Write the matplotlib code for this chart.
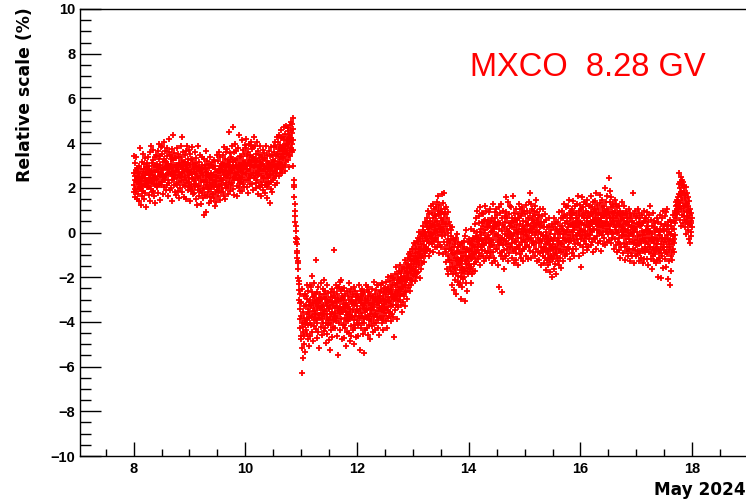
import numpy as np
from matplotlib import pyplot as plt
from matplotlib.ticker import MultipleLocator

# relative scale (%) for MXCO 8.28 GV, one list per day of May 2024,
# samples evenly spaced through the day (20 per 2-hour row)
may08 = [
    2.13, 3.41, 2.64, 1.81, 2.35, 3.09, 1.96, 2.53, 1.58, 2.79, 2.32, 3.38, 1.84, 2.46, 2.73, 1.52, 2.88, 2.04, 2.67, 2.26,
    1.73, 2.48, 2.97, 2.16, 1.42, 2.61, 2.27, 3.76, 1.93, 2.38, 1.24, 2.85, 1.97, 2.31, 3.17, 1.86, 2.55, 2.08, 1.63, 2.69,
    2.44, 3.52, 1.87, 2.83, 2.18, 1.49, 3.06, 2.57, 2.12, 3.34, 2.46, 1.77, 2.91, 2.29, 1.14, 2.68, 3.13, 2.02, 2.37, 2.94,
    2.03, 2.74, 3.36, 2.21, 1.68, 2.57, 2.96, 2.34, 2.82, 1.41, 2.63, 3.58, 2.09, 2.42, 1.94, 3.87, 2.71, 2.24, 3.12, 1.79,
    2.77, 2.32, 3.24, 1.86, 2.59, 3.71, 2.43, 1.62, 2.94, 2.17, 3.38, 2.72, 1.33, 2.47, 3.04, 2.14, 2.81, 3.46, 2.39, 2.06,
    3.08, 2.36, 2.04, 3.63, 2.71, 1.76, 2.93, 3.27, 2.54, 3.98, 2.19, 2.83, 1.47, 3.02, 2.58, 3.44, 2.13, 2.66, 3.82, 2.28,
    2.87, 3.53, 2.24, 2.61, 3.86, 2.42, 3.14, 1.73, 2.79, 3.31, 2.48, 4.07, 2.03, 2.92, 3.18, 2.34, 3.66, 2.57, 1.91, 2.98,
    3.16, 2.54, 3.79, 2.13, 2.86, 3.42, 2.68, 1.64, 3.07, 2.37, 3.61, 2.84, 4.18, 2.23, 2.97, 2.62, 3.48, 1.88, 2.93, 3.29,
    2.63, 3.06, 1.98, 3.72, 2.76, 2.34, 3.37, 1.43, 2.88, 3.23, 2.51, 4.36, 2.14, 2.69, 3.57, 2.41, 1.82, 3.03, 2.56, 3.32,
    2.92, 2.18, 3.34, 2.73, 1.66, 3.01, 2.44, 3.77, 2.12, 2.58, 3.53, 1.87, 2.83, 2.27, 3.09, 1.54, 2.71, 3.36, 1.97, 2.52,
    3.04, 2.57, 3.88, 2.32, 2.94, 3.38, 1.83, 2.66, 3.21, 2.47, 4.26, 2.13, 2.98, 2.84, 3.62, 2.36, 1.58, 3.14, 2.72, 3.47,
    2.53, 3.17, 2.08, 2.82, 3.64, 2.37, 1.52, 3.03, 2.74, 3.86, 2.21, 2.93, 3.28, 1.92, 2.57, 3.12, 2.43, 3.68, 2.02, 2.79,
]
may09 = [
    2.28, 3.04, 1.43, 2.67, 3.52, 2.14, 2.76, 1.87, 3.23, 2.46, 3.81, 1.96, 2.63, 3.27, 1.74, 2.92, 2.38, 3.08, 2.17, 2.71,
    2.83, 1.76, 3.12, 2.37, 2.04, 3.58, 2.62, 1.48, 2.94, 2.16, 3.32, 2.53, 1.21, 2.74, 2.97, 2.06, 3.87, 2.43, 1.88, 2.79,
    2.07, 2.93, 1.62, 3.16, 2.54, 1.86, 2.73, 3.47, 2.24, 1.28, 2.82, 2.36, 3.03, 1.77, 2.64, 3.38, 1.97, 2.33, 1.54, 2.87,
    2.58, 1.93, 3.27, 2.24, 0.79, 2.83, 2.36, 3.04, 1.68, 2.52, 3.66, 2.13, 0.93, 2.71, 2.27, 3.18, 1.63, 2.89, 2.02, 2.57,
    1.82, 2.63, 3.07, 1.96, 1.34, 2.42, 2.88, 1.57, 2.23, 3.36, 2.48, 1.94, 2.68, 1.42, 3.03, 2.12, 2.56, 1.73, 2.34, 3.17,
    2.37, 1.72, 2.91, 2.14, 3.26, 1.53, 2.58, 2.03, 1.17, 2.84, 2.26, 2.98, 1.83, 2.47, 1.36, 2.72, 2.18, 3.48, 1.92, 2.43,
    2.04, 2.77, 1.64, 3.18, 2.53, 2.07, 3.62, 1.86, 2.73, 2.32, 2.96, 1.47, 2.64, 3.37, 2.16, 1.83, 2.92, 2.44, 3.07, 1.98,
    2.86, 2.34, 3.47, 1.83, 2.72, 3.13, 2.36, 1.64, 3.02, 2.57, 3.83, 2.14, 2.77, 1.52, 3.28, 2.53, 1.97, 2.94, 3.58, 2.23,
    3.07, 2.43, 2.76, 3.72, 2.04, 3.26, 2.63, 1.74, 2.92, 4.48, 2.27, 3.03, 2.68, 1.87, 3.54, 2.46, 3.17, 2.12, 2.83, 3.37,
    2.64, 3.28, 2.23, 3.86, 2.77, 1.93, 3.14, 4.72, 2.47, 2.98, 2.34, 3.62, 2.87, 1.68, 3.23, 2.66, 3.97, 2.42, 3.04, 2.57,
    2.97, 2.54, 3.63, 2.08, 2.83, 3.27, 1.63, 2.92, 2.36, 3.77, 2.72, 2.04, 3.13, 4.38, 2.57, 2.23, 3.42, 1.84, 2.88, 2.46,
    2.73, 3.36, 2.27, 3.04, 4.13, 2.48, 2.93, 1.86, 3.22, 2.64, 3.68, 2.17, 2.84, 3.53, 2.03, 3.08, 2.37, 3.92, 2.66, 3.02,
]
may10 = [
    3.17, 2.63, 3.76, 2.34, 2.97, 4.18, 2.83, 2.04, 3.43, 2.86, 3.62, 2.37, 3.12, 1.78, 3.26, 2.74, 3.98, 2.53, 3.04, 2.16,
    2.84, 3.47, 2.43, 3.88, 3.14, 2.57, 4.07, 3.32, 2.18, 3.03, 3.73, 2.66, 3.38, 1.92, 3.24, 3.83, 2.46, 2.96, 4.27, 2.93,
    3.27, 2.54, 3.03, 3.86, 2.23, 2.77, 3.52, 1.97, 3.14, 2.68, 4.04, 2.36, 3.18, 1.73, 2.92, 3.63, 2.57, 3.34, 2.08, 2.98,
    2.63, 3.17, 2.04, 3.46, 2.83, 3.87, 2.28, 3.04, 1.62, 2.73, 3.37, 2.52, 3.06, 2.13, 3.68, 2.76, 2.42, 3.26, 1.88, 2.94,
    2.96, 2.43, 3.57, 2.14, 2.82, 1.76, 3.34, 2.63, 3.86, 2.27, 2.93, 1.53, 3.18, 2.72, 2.03, 3.47, 2.46, 3.13, 2.17, 2.84,
    2.54, 3.07, 2.23, 3.66, 2.87, 1.32, 3.43, 2.58, 3.03, 1.96, 3.82, 2.74, 2.27, 3.16, 1.83, 2.93, 3.48, 2.36, 3.04, 2.62,
    3.26, 2.73, 3.87, 2.44, 3.03, 3.58, 2.14, 3.22, 4.06, 2.77, 3.43, 2.52, 3.84, 2.97, 2.23, 3.53, 2.86, 4.27, 2.64, 3.08,
    3.47, 2.94, 4.03, 3.16, 2.53, 3.72, 4.37, 3.04, 3.63, 2.68, 3.92, 3.27, 4.23, 2.83, 3.36, 4.57, 3.13, 3.77, 2.64, 3.52,
    3.86, 3.34, 4.27, 3.63, 2.93, 4.14, 3.37, 4.73, 3.68, 3.04, 4.42, 3.76, 2.74, 3.97, 3.53, 4.77, 3.22, 3.94, 4.16, 3.57,
    4.17, 3.63, 4.52, 3.86, 3.24, 4.68, 4.03, 3.47, 4.36, 2.93, 4.13, 4.82, 3.67, 4.27, 3.43, 4.58, 4.93, 3.76, 4.24, 3.58,
    4.43, 4.87, 3.94, 5.12, 4.63, 4.16, 3.68, 2.97, 2.36, 2.04, 2.13, 1.57, 1.26, 0.97, 0.72, 0.46, 0.28, 0.07, -0.23, -0.41,
    -0.53, -0.27, -0.84, -1.12, -0.93, -1.38, -1.63, -1.27, -2.04, -2.32, -2.57, -2.18, -3.03, -2.76, -3.43, -3.87, -3.16, -4.28, -3.72, -4.63,
]
may11 = [
    -4.76, -3.13, -5.17, -6.28, -4.03, -2.54, -4.47, -5.62, -3.57, -4.23, -2.86, -4.97, -3.82, -4.64, -3.27, -5.34, -4.08, -2.73, -3.94, -4.36,
    -3.24, -4.07, -2.83, -3.66, -4.53, -2.97, -2.34, -3.88, -4.77, -3.42, -2.63, -4.16, -3.57, -5.08, -3.13, -3.84, -2.37, -4.03, -3.26, -4.62,
    -3.04, -3.73, -2.46, -4.13, -3.27, -1.93, -3.76, -2.68, -4.43, -3.53, -2.87, -4.86, -3.17, -2.24, -3.92, -3.36, -4.18, -2.83, -3.64, -3.07,
    -3.63, -2.77, -4.34, -3.18, -1.23, -3.87, -3.03, -4.72, -2.64, -3.46, -4.04, -3.28, -2.43, -3.83, -4.47, -3.14, -2.92, -3.68, -5.16, -3.37,
    -3.08, -3.83, -2.74, -3.36, -4.23, -2.27, -3.62, -2.96, -4.57, -2.93, -3.34, -3.86, -2.53, -4.07, -3.23, -3.66, -2.14, -4.42, -3.47, -2.77,
    -3.74, -2.97, -4.26, -2.63, -3.53, -4.04, -3.17, -4.96, -2.88, -3.84, -3.27, -4.54, -2.36, -3.63, -4.12, -3.06, -3.93, -2.72, -4.83, -3.38,
    -3.43, -4.07, -3.04, -3.76, -5.27, -3.23, -2.66, -4.38, -3.63, -2.87, -4.03, -3.54, -4.68, -3.12, -2.53, -3.86, -4.24, -3.27, -2.83, -3.73,
    -3.17, -2.64, -3.93, -0.78, -3.36, -4.27, -2.93, -3.58, -2.34, -3.97, -3.13, -3.74, -2.47, -4.63, -3.28, -2.76, -3.84, -5.46, -3.03, -3.52,
    -2.93, -3.47, -2.43, -4.04, -3.07, -2.23, -3.66, -3.34, -4.37, -2.63, -3.04, -3.88, -2.14, -3.42, -4.76, -2.83, -3.57, -2.52, -4.13, -3.18,
    -3.57, -2.94, -4.16, -3.33, -4.73, -3.04, -2.47, -3.82, -4.27, -3.36, -2.73, -3.97, -3.53, -5.07, -3.14, -3.87, -2.62, -4.43, -3.23, -3.68,
    -3.34, -3.96, -2.83, -3.63, -4.48, -3.03, -2.24, -3.87, -3.43, -4.86, -2.67, -3.54, -4.17, -3.08, -2.53, -3.76, -4.63, -3.22, -2.88, -3.73,
    -3.77, -3.13, -4.36, -2.73, -3.47, -4.14, -3.26, -2.43, -3.93, -4.97, -3.17, -3.74, -2.63, -4.27, -3.57, -3.04, -4.68, -2.86, -3.43, -4.03,
]
may12 = [
    -3.27, -3.93, -2.74, -4.16, -3.53, -2.87, -4.63, -3.08, -3.73, -2.36, -4.04, -3.42, -5.27, -2.97, -3.84, -2.63, -4.26, -3.17, -3.58, -2.83,
    -3.73, -3.04, -4.07, -2.53, -3.36, -4.54, -3.23, -2.77, -3.88, -5.38, -3.27, -2.64, -4.03, -3.57, -2.93, -4.37, -3.14, -3.76, -2.33, -3.47,
    -3.06, -3.83, -2.57, -4.27, -3.43, -2.86, -3.74, -4.58, -3.03, -2.44, -3.87, -3.26, -4.13, -2.68, -3.64, -3.17, -4.76, -2.83, -3.47, -3.97,
    -3.37, -2.83, -3.86, -3.14, -4.17, -2.53, -3.63, -2.96, -4.47, -2.87, -3.34, -3.77, -2.23, -3.46, -4.03, -3.18, -2.74, -4.36, -3.04, -3.67,
    -2.97, -3.63, -2.57, -4.04, -3.26, -2.33, -3.77, -3.13, -4.28, -2.84, -3.53, -2.37, -3.92, -3.16, -4.57, -2.93, -3.38, -2.66, -3.74, -3.07,
    -2.86, -3.43, -2.37, -3.84, -3.07, -2.63, -4.06, -3.27, -2.24, -3.56, -2.83, -3.93, -2.97, -4.36, -2.53, -3.18, -3.72, -2.66, -3.47, -3.03,
    -3.36, -2.47, -3.13, -3.97, -2.23, -3.62, -2.76, -3.34, -4.27, -2.58, -3.04, -1.97, -3.83, -2.87, -3.46, -2.43, -3.17, -3.73, -2.64, -3.08,
    -2.63, -3.07, -2.17, -3.54, -2.76, -1.93, -3.27, -2.53, -3.96, -2.87, -2.34, -3.63, -2.66, -3.23, -2.04, -3.77, -2.36, -2.97, -4.67, -2.83,
    -2.96, -2.13, -2.73, -3.47, -1.84, -2.36, -3.23, -2.57, -1.53, -2.93, -3.86, -2.27, -2.83, -1.87, -3.34, -2.46, -2.03, -3.07, -2.64, -2.17,
    -2.13, -2.57, -1.73, -3.04, -2.27, -2.86, -1.47, -2.53, -3.26, -1.97, -2.74, -1.83, -3.57, -2.16, -2.43, -1.63, -2.77, -2.07, -3.13, -2.46,
    -2.37, -1.53, -2.86, -1.94, -2.17, -1.23, -2.63, -3.27, -1.74, -2.04, -2.67, -1.36, -2.33, -1.77, -2.97, -2.13, -1.58, -2.47, -1.14, -2.03,
    -1.43, -1.87, -0.97, -2.34, -1.56, -2.04, -1.17, -2.63, -1.73, -0.86, -2.13, -1.47, -1.83, -2.36, -1.07, -1.64, -2.18, -1.27, -0.73, -1.93,
]
may13 = [
    -1.07, -1.63, -0.73, -1.86, -1.24, -0.47, -1.43, -2.17, -0.93, -1.27, -1.74, -0.57, -1.03, -1.97, -1.53, -0.76, -1.16, -1.83, -0.37, -1.34,
    -1.27, -0.43, -0.86, -1.77, -0.23, -1.14, -0.63, -1.47, 0.04, -0.97, -0.73, -2.03, -0.27, -1.16, -0.84, -0.06, -1.63, -0.53, -1.04, -1.37,
    -0.17, -0.73, 0.27, -1.04, -0.36, 0.13, -0.77, -1.33, -0.07, -0.54, 0.47, -0.93, -0.26, -1.07, 0.03, -0.63, -0.14, 0.43, -0.84, -0.37,
    0.23, -0.36, 0.64, -0.73, 0.04, 0.97, -0.27, 0.43, -1.03, 0.14, -0.47, 0.83, -0.16, 0.27, -0.83, 0.53, -0.07, 1.17, -0.44, -0.03,
    0.37, -0.23, 0.86, -0.53, 0.24, 1.27, -0.06, 0.63, -0.87, 0.33, -0.04, 1.03, -0.37, 0.46, -0.63, 0.77, 0.13, -0.27, 1.14, 0.17,
    -0.23, 0.74, 1.37, 0.06, -0.66, 0.53, 0.97, -0.43, 0.27, 1.63, -0.13, 0.84, -0.93, 0.36, 1.23, 0.04, -0.54, 0.87, 0.16, 0.63,
    1.07, 0.23, -0.63, 1.73, 0.47, -0.17, 0.93, 0.03, 1.34, -0.97, 0.57, 0.26, 1.77, -0.43, 0.83, 0.07, -0.76, 1.04, 0.36, -0.13,
    0.83, -0.87, 0.36, -1.34, 1.13, -0.57, 0.17, -1.63, 0.64, -1.03, -0.27, 0.93, -1.86, -0.04, -0.73, 0.47, -1.23, -0.36, 0.27, -1.54,
    -0.47, -1.23, 0.13, -1.74, -0.77, -0.16, -1.37, -2.33, -0.63, -0.96, 0.23, -1.87, -0.93, -0.27, -1.53, -2.57, -0.66, -1.14, -0.34, -1.63,
    -1.57, -0.53, -2.14, -0.97, -0.26, -1.83, -1.27, -2.73, -0.84, -1.46, -0.07, -1.13, -2.23, -0.67, -1.94, -1.17, -0.43, -2.36, -1.44, -0.87,
    -1.23, -1.66, -0.57, -2.24, -1.37, -0.93, -1.97, -1.14, -2.97, -1.53, -0.46, -1.83, -1.27, -2.43, -0.76, -1.63, -1.04, -2.07, -0.37, -1.73,
    -0.63, -1.97, -1.24, -0.17, -1.73, -3.07, -0.86, -1.43, -2.27, -1.04, 0.13, -1.57, -0.74, -2.63, -1.26, -0.43, -1.87, -1.13, -0.77, -1.46,
]
may14 = [
    -0.87, -1.43, -0.27, -1.76, -1.03, -0.47, -1.63, -0.73, -2.27, -1.17, 0.16, -1.54, -0.83, -1.87, -0.36, -1.13, -0.57, -1.73, -0.96, -0.23,
    -0.53, -0.96, 0.07, -1.43, -0.67, 0.37, -1.14, -0.27, -1.73, -0.63, 0.64, -0.87, -0.16, -1.33, 0.03, -0.77, -0.43, 0.96, -1.17, -0.54,
    -0.23, -0.67, 0.43, -1.07, -0.36, 0.73, -0.93, 0.04, -1.46, -0.27, 1.13, -0.63, 0.17, -1.04, -0.13, 0.47, -0.77, -0.33, 0.86, -0.53,
    0.27, -1.03, -0.36, 0.83, -0.04, -1.27, 0.53, -0.57, 1.17, -0.23, -0.84, 0.13, 0.56, -1.13, -0.27, 0.97, -0.46, 0.23, -0.93, 0.37,
    -0.27, 0.24, -0.83, 0.57, -0.13, -1.16, 0.43, -0.47, 0.93, -0.24, -1.03, 0.27, -0.63, 1.07, 0.04, -0.86, 0.53, -0.37, -1.37, 0.07,
    0.03, -0.54, 0.67, -0.87, 0.23, 1.26, -0.33, 0.47, -1.13, 0.14, -0.57, 0.93, -0.17, 0.36, -1.27, 0.63, -0.06, 1.04, -0.73, 0.27,
    -0.17, 0.33, -0.73, 0.77, -0.43, -1.47, 0.46, -0.13, 1.14, -0.57, -2.43, 0.17, -0.34, 0.87, -0.93, 0.43, -0.47, 1.27, -0.23, -1.06,
    -0.43, 0.07, -0.86, -2.66, -0.23, 0.63, -1.17, 0.34, -0.57, 0.97, -0.33, -1.63, 0.24, -0.77, 0.73, -0.07, -1.04, 0.46, -0.53, 1.57,
    -0.37, 0.93, -1.04, 0.17, 0.63, -0.73, -0.16, 1.37, -0.53, 0.07, -1.27, 0.43, 0.84, -0.26, 0.03, -0.93, 1.17, -0.63, 0.27, -0.13,
    -0.07, 0.43, -0.64, 1.13, -0.27, 0.67, -1.13, 0.23, -0.47, 1.63, -0.16, 0.53, -0.83, -0.03, 0.87, -1.37, 0.26, -0.43, 0.63, -0.74,
    0.47, -0.93, 0.13, -0.37, 1.04, -1.23, -0.07, 0.57, -0.63, 0.33, -1.47, 0.83, -0.26, 0.04, 1.27, -0.73, 0.16, -0.54, 0.67, -0.97,
    -0.57, 0.36, 1.07, -0.23, -1.14, 0.73, 0.04, -0.83, 0.87, 0.17, -0.43, 1.16, -1.27, 0.53, -0.06, 0.27, -0.74, 0.97, 0.13, -0.33,
]
may15 = [
    0.17, -0.43, 0.83, -0.66, 0.04, 1.23, -0.17, 0.47, -1.03, 0.33, -0.54, 0.97, -0.13, 0.63, -1.17, 0.37, -0.27, 1.36, 0.06, -0.63,
    -0.27, 0.63, 1.77, 0.13, -0.83, 0.86, 0.27, -0.23, 1.27, -1.13, 0.54, -0.04, -0.47, 1.07, 0.43, -0.87, 0.73, 0.16, -0.37, 0.97,
    0.53, -0.57, 0.24, 1.17, -0.13, -1.04, 0.77, 0.33, -0.43, 1.46, 0.03, -0.73, 0.57, -1.27, 0.93, 0.07, -0.24, 0.43, -0.86, 0.67,
    -0.47, 0.37, -1.23, 0.03, 0.77, -0.33, -0.93, 1.06, 0.23, -0.63, 0.47, -1.46, -0.07, 0.73, -0.37, 0.27, -0.83, 1.04, -0.16, -1.03,
    -0.13, -0.87, 0.47, -0.63, -1.37, 0.23, -0.27, -1.14, 0.83, -0.73, -0.17, -1.66, 0.04, -0.53, 0.57, -1.23, -0.77, 0.26, -0.43, -0.97,
    -0.87, -0.23, -1.47, 0.27, -0.73, -1.13, -0.36, 0.63, -1.77, -0.54, -0.07, -1.33, -0.76, 0.13, -1.04, -0.27, -1.97, -0.63, 0.37, -1.16,
    -0.33, -1.17, 0.23, -0.77, -0.53, -1.63, 0.67, -0.24, -0.96, -0.63, 0.36, -1.43, -0.07, -0.93, 0.14, -0.73, -1.86, 0.47, -0.37, -1.13,
    -1.03, 0.13, -0.57, -1.27, 0.47, -0.23, -0.84, 0.93, -1.46, -0.37, 0.04, -1.13, 0.27, -0.73, -0.06, -1.57, 0.63, -0.47, -0.87, 0.17,
    0.27, -0.53, 0.97, -0.87, -0.23, 0.63, -1.26, 0.13, 0.77, -0.63, -0.07, 1.27, -1.03, 0.43, -0.34, 0.73, -0.77, 0.04, 1.13, -0.37,
    -0.27, 0.77, 0.13, -0.97, 0.53, 1.17, -0.63, 0.23, -0.13, 1.47, -0.76, 0.37, -0.43, 0.87, 0.03, -1.17, 0.63, -0.24, 0.96, 0.33,
    0.63, -0.37, 1.07, 0.03, -0.93, 0.77, 0.27, -0.16, 1.43, -0.73, 0.46, 0.13, -1.07, 0.87, -0.33, 0.43, 1.17, -0.53, 0.24, 0.66,
    -0.13, 0.87, 0.43, -0.73, 1.27, 0.23, -0.27, 0.67, 1.63, -0.47, 0.53, -0.04, 0.97, -1.03, 0.34, 0.77, -0.17, 1.23, 0.07, -0.57,
]
may16 = [
    0.47, -0.27, 1.03, 0.17, -1.53, 0.73, 1.57, -0.13, 0.43, 1.16, -0.63, 0.04, 0.87, -0.93, 0.33, 1.37, -0.37, 0.63, 0.07, -0.23,
    0.03, 0.77, -0.53, 1.27, 0.34, -0.17, 0.97, 0.53, -0.77, 0.63, 1.47, -0.07, 0.23, 0.86, -0.63, 0.43, 1.17, -0.27, 0.73, 0.13,
    0.73, -0.13, 1.17, 0.27, 0.93, -0.57, 0.46, 1.63, 0.04, 0.37, -0.43, 1.13, 0.57, -0.87, 0.83, 0.16, 1.37, -0.23, 0.53, 0.97,
    0.17, 1.04, 0.63, -0.27, 1.43, 0.36, 0.87, -0.73, 0.67, 1.77, 0.13, 0.47, -0.17, 1.23, 0.77, 0.33, -0.46, 1.07, 0.57, 0.03,
    0.87, 0.27, -0.37, 1.33, 0.53, -0.03, 1.66, 0.63, -0.83, 0.77, 0.24, 1.13, -0.13, 0.43, 1.47, -0.53, 0.73, 0.07, 0.97, 0.27,
    0.43, 1.17, -0.23, 0.73, 1.97, 0.27, 0.93, -0.57, 0.46, 1.37, 0.04, 0.83, 1.07, -0.43, 0.63, 0.17, 1.63, -0.07, 0.87, 0.36,
    0.97, 2.43, 0.27, 0.83, -0.33, 1.37, 0.63, 0.13, 1.86, 0.67, -0.47, 1.13, 0.37, 1.57, 0.03, 0.93, 0.47, -0.23, 1.27, 0.73,
    0.63, -0.07, 1.17, 0.33, -0.73, 0.87, 0.53, 1.46, -0.27, 0.23, 0.97, -0.54, 0.67, 0.13, 1.27, -0.87, 0.43, 0.77, -0.04, 1.13,
    0.53, -0.43, 0.87, 0.04, -0.77, 1.17, 0.27, -0.23, 0.73, -1.13, 0.37, 0.97, -0.53, 0.13, 0.83, -0.67, 0.57, -0.13, 1.37, 0.23,
    -0.17, 0.63, 0.07, -0.93, 0.86, 0.33, -0.47, 1.17, -0.13, 0.53, -1.23, 0.17, 0.77, -0.63, 0.43, -0.27, 0.97, 0.03, -0.83, 0.67,
    0.37, -0.53, 0.83, -0.17, -1.03, 0.47, 0.13, -0.73, 1.07, -0.27, 0.33, -1.27, 0.63, -0.03, -0.43, 0.87, -0.93, 0.23, -0.07, 0.73,
    -0.43, 0.27, -1.07, 0.53, -0.17, 1.77, -0.73, 0.13, -0.47, 0.83, -1.37, 0.04, 0.43, -0.77, 0.97, -0.33, 0.17, -1.03, 0.63, -0.57,
]
may17 = [
    0.23, -0.57, 0.73, -0.97, 0.03, -0.33, 1.07, -0.83, 0.37, -0.17, -1.27, 0.47, -0.53, 0.87, -0.13, -0.93, 0.27, -0.37, 0.63, -1.13,
    -0.47, 0.33, -1.13, 0.07, -0.73, 0.77, -0.27, -1.36, 0.43, -0.13, -0.84, 0.97, -0.37, 0.03, -1.17, 0.53, -0.63, -0.23, 0.67, -0.87,
    0.13, -0.77, 0.63, -0.43, -1.17, 0.27, -0.07, 0.93, -0.73, 0.17, -0.53, -1.47, 0.46, -0.23, 0.77, -0.87, 0.04, -0.33, 1.17, -0.63,
    -0.63, 0.07, -1.17, -0.23, 0.57, -0.93, -0.37, 0.27, -1.63, -0.07, 0.87, -0.73, -0.27, -1.03, 0.23, -0.47, 0.53, -1.27, -0.77, 0.03,
    -0.23, -0.97, 0.43, -0.63, -1.37, 0.13, -0.77, 0.67, -0.27, -1.23, -0.53, 0.17, -1.97, -0.73, 0.47, -0.37, -1.13, 0.04, -0.87, -0.13,
    -0.73, 0.17, -1.27, -0.13, 0.77, -0.53, -2.03, 0.37, -0.93, -0.27, 0.63, -1.07, -0.23, 0.13, -1.57, -0.63, 0.97, -0.43, -0.77, 0.27,
    0.07, -0.63, 0.73, -1.17, -0.23, 0.37, -0.87, 0.93, -0.43, -1.53, 0.17, -0.13, -0.67, 1.07, -0.97, 0.47, -0.27, -2.07, 0.33, -0.53,
    -0.77, 0.03, -1.27, -0.33, 0.57, -2.37, -0.63, 0.27, -1.03, -0.07, -1.73, 0.47, -0.53, -0.87, 0.17, -1.23, -0.17, 0.77, -0.73, -0.37,
    -0.27, 0.53, -0.87, 0.17, -0.47, 0.77, -0.13, 0.43, 0.97, 0.63, 1.17, 0.87, 1.37, 1.07, 0.83, 1.46, 1.23, 0.96, 1.57, 1.27,
    1.37, 0.93, 2.17, 1.13, 2.66, 1.73, 0.57, 2.27, 1.33, 1.97, 0.27, 1.83, 2.47, 1.04, 1.63, 2.13, 0.77, 1.47, 2.36, 1.17,
    1.77, 0.43, 2.27, 1.17, 0.73, 1.87, 0.97, 2.07, 0.23, 1.53, 1.67, 0.57, 2.03, 1.13, -0.07, 1.37, 0.93, 1.76, 0.47, 1.27,
    0.73, 1.17, 0.13, 1.57, 0.37, -0.27, 0.97, 0.63, 1.43, -0.47, 0.77, 0.33, 1.07, 0.03, 0.53, 0.87, -0.17, 0.43, 0.67, 0.23,
]

days = [8, 9, 10, 11, 12, 13, 14, 15, 16, 17]
daily = [may08, may09, may10, may11, may12, may13, may14, may15, may16, may17]

t = np.concatenate([d + np.arange(len(v)) / len(v) for d, v in zip(days, daily)])
scale = np.concatenate([np.array(v) for v in daily])

label_font = 'DejaVu Sans'
tick_font = 'Liberation Sans'

fig = plt.figure(figsize=(7.46, 5.03), dpi=100)
ax = fig.add_axes([80 / 746, 47 / 503, 668 / 746, 447 / 503])

ax.plot(t, scale, linestyle='none', marker='+', color='red', markersize=3.8, markeredgewidth=1.3)

ax.set_xlim(7.04, 19.0)
ax.set_ylim(-10, 10)

ax.xaxis.set_major_locator(MultipleLocator(2))
ax.xaxis.set_minor_locator(MultipleLocator(0.5))
ax.yaxis.set_major_locator(MultipleLocator(2))
ax.yaxis.set_minor_locator(MultipleLocator(0.5))

ax.tick_params(which='both', direction='in', top=False, right=False, width=1.0, color='black')
ax.tick_params(axis='y', which='major', length=15, pad=3.5)
ax.tick_params(axis='y', which='minor', length=8)
ax.tick_params(axis='x', which='major', length=10, pad=4.5)
ax.tick_params(axis='x', which='minor', length=5)

for lab in ax.get_xticklabels() + ax.get_yticklabels():
    lab.set_fontfamily(tick_font)
    lab.set_fontweight('bold')
    lab.set_fontsize(10.5)

for side in ['left', 'bottom', 'top']:
    ax.spines[side].set_linewidth(1.0)
ax.spines['right'].set_visible(False)

ax.text(14.03, 7.0, 'MXCO  8.28 GV', color='red', fontsize=23.5,
        family=tick_font, ha='left', va='baseline')

fig.text(25 / 746, 1 - 95 / 503, 'Relative scale (%)', rotation=90,
         fontsize=12.4, fontweight='bold', family=label_font, ha='center', va='center')
fig.text(746 / 746, 1 - 495 / 503, 'May 2024', fontsize=12.2, fontweight='bold',
         family=label_font, ha='right', va='baseline')

fig.savefig('out.png', dpi=100)
